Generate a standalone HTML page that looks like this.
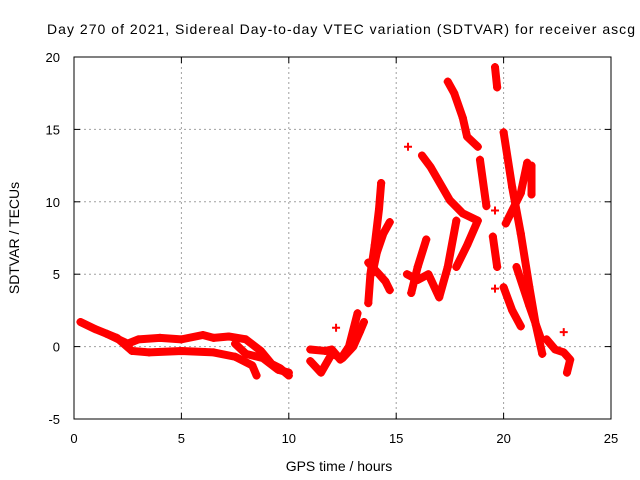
<!DOCTYPE html>
<html><head><meta charset="utf-8"><style>
body{margin:0;background:#fff}
svg{display:block;font-family:"Liberation Sans",sans-serif}
</style></head><body>
<svg id="chart" width="640" height="480">
<text x="47" y="34" font-size="14" fill="#000" textLength="588" lengthAdjust="spacing">Day 270 of 2021, Sidereal Day-to-day VTEC variation (SDTVAR) for receiver ascg</text>
<text x="339" y="471" text-anchor="middle" font-size="14">GPS time / hours</text>
<text transform="translate(19,238) rotate(-90)" text-anchor="middle" font-size="14">SDTVAR / TECUs</text>
<g id="grid"></g>
<g id="marks"></g>
<g id="axes"></g>
</svg>
<script>
const xTicks=[0,5,10,15,20,25];
const yTicks=[-5,0,5,10,15,20];
const track1=[[0.3,1.7],[1,1.2],[2,0.6],[2.7,-0.3],[3.5,-0.4],[5,-0.3],[6.5,-0.4],[7.5,-0.7],[8.3,-1.3],[8.5,-2]];
const track2=[[1.5,0.9],[2.5,0.2],[3,0.5],[4,0.6],[5,0.5],[6,0.8],[6.5,0.6],[7.2,0.7],[8,0.5],[8.7,-0.3],[9.2,-1.2],[9.6,-1.5],[10,-2]];
const track3=[[7.5,0.2],[8,-0.5],[8.8,-0.8],[9.5,-1.6],[10,-1.8]];
const track4=[[11,-1],[11.5,-1.8],[12,-0.5],[12.5,-0.8],[13,0],[13.3,1],[13.5,1.7]];
const track5=[[11,-0.2],[11.7,-0.3],[12,-0.2],[12.4,-0.9],[12.8,0],[13.2,2.3]];
const track6=[[13.7,3.0],[13.8,5],[14,7],[14.2,9.5],[14.3,11.3]];
const track7=[[13.9,5.1],[14.1,6.5],[14.4,7.8],[14.7,8.6]];
const track8=[[13.7,5.8],[14.2,5],[14.5,4.5],[14.7,3.9]];
const track9=[[15.5,5],[16,4.6],[16.5,5],[17,3.4],[17.4,5.5],[17.8,8.7]];
const track10=[[15.7,3.7],[16,5.5],[16.4,7.4]];
const track11=[[16.2,13.2],[16.6,12.4],[17.5,10.1],[18.1,9.2],[18.8,8.7],[18.3,7],[17.8,5.5]];
const track12=[[17.4,18.3],[17.7,17.5],[18.1,15.8],[18.3,14.5],[18.8,13.8]];
const track13=[[18.9,12.9],[19.2,9.7]];
const track14=[[19.5,7.6],[19.7,5.5]];
const track15=[[19.6,19.3],[19.7,17.9]];
const track16=[[20.0,14.8],[20.4,11],[20.8,7.8],[21.2,4.1],[21.5,1.5],[21.8,-0.5]];
const track17=[[21.1,12.7],[20.8,10.6],[20.1,8.5]];
const track18=[[21.3,12.5],[21.3,10.5]];
const track19=[[20.0,4.1],[20.4,2.5],[20.8,1.4]];
const track20=[[20.6,5.5],[21.2,2.8],[21.7,0.7]];
const track21=[[22,0.5],[22.4,-0.2],[22.8,-0.4],[23.1,-0.9],[22.95,-1.8]];
const singles=[[15.55,13.8],[19.6,9.4],[19.6,4.0],[12.2,1.3],[22.8,1.0]];
const tracks=[track1,track2,track3,track4,track5,track6,track7,track8,track9,track10,track11,track12,track13,track14,track15,track16,track17,track18,track19,track20,track21];
const X0=74,X1=611,Y0=419,Y1=57,xmin=0,xmax=25,ymin=-5,ymax=20;
const sx=v=>X0+(v-xmin)/(xmax-xmin)*(X1-X0);
const sy=v=>Y0-(v-ymin)/(ymax-ymin)*(Y0-Y1);
const NS='http://www.w3.org/2000/svg';
function mk(t,a,p){const e=document.createElementNS(NS,t);for(const k in a)e.setAttribute(k,a[k]);p.appendChild(e);return e;}
const grid=document.getElementById('grid'),marks=document.getElementById('marks'),axes=document.getElementById('axes');
xTicks.forEach(t=>{const x=sx(t);
 if(t>xmin&&t<xmax){const l=mk('line',{x1:x,x2:x,y1:Y1,y2:Y0,stroke:'#a0a0a0','stroke-dasharray':'2,3'},grid);
 
 }
 mk('line',{x1:x,x2:x,y1:Y0,y2:Y0-6,stroke:'#000'},axes);
 mk('line',{x1:x,x2:x,y1:Y1,y2:Y1+6,stroke:'#000'},axes);
 const tx=mk('text',{x:x,y:Y0+24,'text-anchor':'middle','font-size':13},axes);tx.textContent=t;
 
 });
yTicks.forEach(t=>{const y=sy(t);
 if(t>ymin&&t<ymax){const l=mk('line',{x1:X0,x2:X1,y1:y,y2:y,stroke:'#a0a0a0','stroke-dasharray':'2,3'},grid);
 
 }
 mk('line',{x1:X0,x2:X0+6,y1:y,y2:y,stroke:'#000'},axes);
 mk('line',{x1:X1,x2:X1-6,y1:y,y2:y,stroke:'#000'},axes);
 const tx=mk('text',{x:X0-14,y:y+5,'text-anchor':'end','font-size':13},axes);tx.textContent=t;
 
 });
const fr=mk('rect',{x:X0,y:Y1,width:X1-X0,height:Y0-Y1,fill:'none',stroke:'#000'},axes);


function plus(x,y){mk('path',{d:`M${x-4},${y}h8M${x},${y-4}v8`,stroke:'#f00','stroke-width':2},marks);}
tracks.forEach(tr=>{
 const pl=mk('polyline',{points:tr.map(p=>sx(p[0])+','+sy(p[1])).join(' '),fill:'none',stroke:'#f00','stroke-width':8,'stroke-linejoin':'round','stroke-linecap':'round'},marks);
 
 
 tr.forEach(p=>plus(sx(p[0]),sy(p[1])));});
singles.forEach(p=>{plus(sx(p[0]),sy(p[1]));});
</script>
</body></html>
